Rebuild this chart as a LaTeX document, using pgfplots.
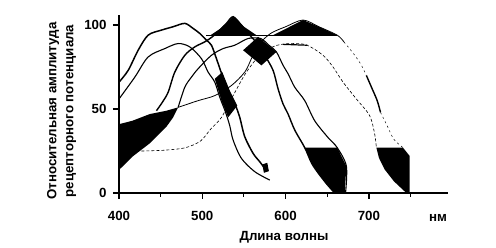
\documentclass[border=0pt]{standalone}
\usepackage{pgfplots}
\pgfplotsset{compat=1.18}
\usepackage{fontspec}
\setmainfont{Liberation Sans}
\begin{document}
\begin{tikzpicture}
\useasboundingbox (-119pt,-55pt) rectangle (377pt,193pt);
\begin{axis}[
  at={(0,0)}, anchor=south west,
  scale only axis, width=329pt, height=178pt,
  xmin=400, xmax=795, ymin=0, ymax=106,
  axis x line=bottom, axis y line=left,
  axis line style={line width=1.6pt,-},
  xtick={400,500,600,700}, minor xtick={450,550,650,750},
  ytick={0,50,100},
  tick align=outside,
  major tick length=6pt, minor tick length=4pt,
  tick style={black, line width=1.4pt},
  minor tick style={line width=1pt},
  tick label style={font=\fontsize{13.3}{15}\selectfont\bfseries},
  /pgf/number format/assume math mode=true,
  xticklabel style={yshift=-9pt},
  yticklabel style={xshift=-3pt},
  clip=false,
]
% shaded regions
\addplot[fill=black, draw=none] coordinates {(400,41) (416,43) (437,47) (457,49) (471,51) (465,45) (457,39.5) (437,29.6) (416,21.6) (400,13.7)};
\addplot[fill=black, draw=none] coordinates {(515,68) (524,72) (533,61) (542,52) (531,45) (523,55)};
\addplot[fill=black, draw=none] coordinates {(510,94) (522,98) (537,105) (550,99) (565,94)};
\addplot[fill=black, draw=none] coordinates {(549,85) (567,93) (589,84) (571,76)};
\addplot[fill=black, draw=none] coordinates {(585,94) (605,99) (621,103) (640,99) (662,94)};
\addplot[fill=black, draw=none] coordinates {(623,27) (662,27) (673,16) (671,0) (659,0) (650,5) (639,12) (631,18)};
\addplot[fill=black, draw=none] coordinates {(709,27) (741,27) (749,22) (749,0) (745,0) (730,7) (719,14) (712,21)};
\addplot[fill=black, draw=none] coordinates {(572,17) (578,18) (580,13) (574,12)};
% curves
\addplot[black, line width=1.5pt, smooth, tension=0.5] coordinates {(400,66) (411,73) (423,85) (435,94) (451,97) (465,99) (479,101) (489,98) (497,95) (505,91) (511,88) (517,80) (524,70) (532,60) (540,52) (545,45) (551,33.5) (561,23.6) (569,18.6) (576,14)};
\addplot[black, line width=1.1pt, smooth, tension=0.5] coordinates {(400,56) (419,69) (435,81) (455,86) (471,89) (485,87) (499,80) (507,72) (515,66) (521,57) (528,48) (533,40) (537,31.5) (547,20.6) (563,12.7) (581,7.7)};
\addplot[black, line width=1.4pt, smooth, tension=0.5] coordinates {(445,49) (452,54) (459,60) (467,72) (479,82) (491,87) (503,90) (512,93) (521,97) (529,101) (537,105) (547,100) (557,94) (566,89) (575,82) (585,73) (591,62) (597,53) (603,47) (611,37.5) (623,27) (631,18) (639,12) (650,5) (659,0)};
\addplot[black, line width=1.1pt, smooth, tension=0.5] coordinates {(471,51) (479,63) (487,69) (495,74) (511,82) (525,86) (539,88) (555,92) (570,92) (580,88) (589,84) (597,76) (603,71) (611,63) (623,55) (635,43) (651,33) (662,27) (673,16) (672,0)};
\addplot[black, line width=0.8pt, smooth, tension=0.5] coordinates {(471,51) (495,55) (515,58) (535,64) (551,72) (559,80) (567,88) (582,95) (600,99) (621,103) (640,99) (662,94) (670,90)};
\addplot[black, line width=0.5pt, dash pattern=on 2pt off 3pt, smooth, tension=0.5] coordinates {(670,90) (680,84) (690,77) (697,70)};
\addplot[black, line width=1.4pt, smooth] coordinates {(697,70) (704,62) (710,55) (714,48)};
\addplot[black, line width=0.5pt, dash pattern=on 2pt off 3pt, smooth, tension=0.5] coordinates {(714,48) (722,40) (730,32) (741,27)};
\addplot[black, line width=0.6pt, dash pattern=on 3pt off 2pt, smooth, tension=0.5] coordinates {(427,25) (455,25.5) (480,27) (498,31) (510,38) (523,45) (537,58) (553,72) (571,83) (590,88) (610,89) (626,88) (645,82) (657,75) (669,66) (685,56) (701,46) (707,35) (709,27)};
\addplot[black, line width=1.2pt] coordinates {(597,88.5) (626,88)};
\addplot[black, line width=0.8pt] coordinates {(505,94) (662,94)};
\end{axis}
\node[font=\fontsize{13.3}{15}\selectfont\bfseries] at (165pt,-44pt) {Длина волны};
\node[font=\fontsize{13.3}{15}\selectfont\bfseries] at (319pt,-25pt) {нм};
\node[rotate=90, align=center, font=\fontsize{13.3}{17}\selectfont\bfseries] at (-57.5pt,82pt) {Относительная амплитуда\\рецепторного потенциала};
\end{tikzpicture}
\end{document}
